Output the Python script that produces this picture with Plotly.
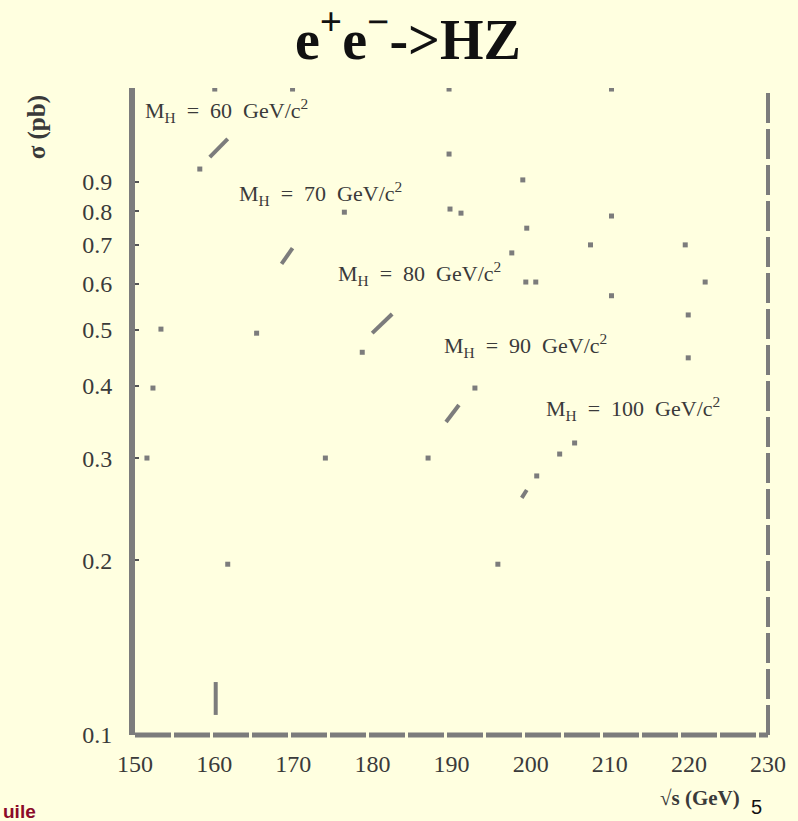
import math
import plotly.graph_objects as go

# ---------------- data ----------------
x_ticks = [150, 160, 170, 180, 190, 200, 210, 220, 230]
y_ticks = [0.1, 0.2, 0.3, 0.4, 0.5, 0.6, 0.7, 0.8, 0.9]
y_tick_text = ["0.1", "0.2", "0.3", "0.4", "0.5", "0.6", "0.7", "0.8", "0.9"]

higgs_masses = [60, 70, 80, 90, 100]
# visible segments of each cross-section curve (sqrt(s) in GeV, sigma in pb)
curve_s = [[159.45, 161.72], [168.52, 169.91], [179.98, 182.50], [189.31, 190.94], [198.88, 199.51]]
curve_sigma = [[0.992, 1.066], [0.649, 0.691], [0.493, 0.532], [0.3465, 0.3707], [0.2563, 0.2645]]
# isolated visible points of each curve
dots_s = [[158.19], [], [178.72], [192.96], [200.77, 203.67, 205.56]]
dots_sigma = [[0.946], [], [0.457], [0.3965], [0.2797, 0.3051, 0.3188]]

# remaining scattered fragments of the scanned curves
frag_s = [160.08, 169.91, 189.69, 210.22, 189.69, 189.81, 191.20, 199.01, 210.22, 199.51,
          197.62, 207.57, 219.54, 199.39, 200.65, 222.06, 210.22, 219.92, 219.92, 176.46,
          153.28, 165.37, 152.27, 151.51, 174.06, 187.04, 161.72, 195.86]
frag_sigma = [1.2996, 1.2996, 1.2996, 1.2996, 1.004, 0.807, 0.794, 0.906, 0.785, 0.748,
              0.678, 0.700, 0.700, 0.604, 0.604, 0.604, 0.572, 0.530, 0.447, 0.797,
              0.501, 0.493, 0.3965, 0.3003, 0.3003, 0.3003, 0.197, 0.197]
bar_s = [160.2, 160.2]
bar_sigma = [0.1083, 0.1234]

# ---------------- layout geometry ----------------
W, H = 798, 821
L, R, T, B = 135, 28, 88, 86
X_RANGE = [150, 230]
Y_RANGE = [-1.0, 0.1156]

def px_to_s(px):
    return X_RANGE[0] + (px - L) / (W - L - R) * (X_RANGE[1] - X_RANGE[0])

def py_to_logy(py):
    return Y_RANGE[0] + (H - B - py) / (H - T - B) * (Y_RANGE[1] - Y_RANGE[0])

def px_to_paper(px):
    return (px - L) / (W - L - R)

def py_to_paper(py):
    return (H - B - py) / (H - T - B)

GRAY = "#7c7c7c"
TEXT = "#3a3a3a"
SERIF = "Liberation Serif, DejaVu Serif, serif"

fig = go.Figure()

for i, mh in enumerate(higgs_masses):
    fig.add_trace(go.Scatter(x=curve_s[i], y=curve_sigma[i], mode="lines",
                             line=dict(color=GRAY, width=4), showlegend=False,
                             name=f"MH={mh}"))
    if dots_s[i]:
        fig.add_trace(go.Scatter(x=dots_s[i], y=dots_sigma[i], mode="markers",
                                 marker=dict(symbol="square", size=5, color=GRAY),
                                 showlegend=False))

fig.add_trace(go.Scatter(x=frag_s, y=frag_sigma, mode="markers",
                         marker=dict(symbol="square", size=5, color=GRAY),
                         showlegend=False))
fig.add_trace(go.Scatter(x=bar_s, y=bar_sigma, mode="lines",
                         line=dict(color=GRAY, width=4), showlegend=False))

# curve labels
label_pos = [(143, 110), (237, 193), (337, 273), (443, 345), (545, 408)]
nb = "\u00a0"
for mh, (px, py) in zip(higgs_masses, label_pos):
    fig.add_annotation(x=px_to_s(px), y=py_to_logy(py), xref="x", yref="y",
                       xanchor="left", yanchor="middle", showarrow=False,
                       text=f"M<sub>H</sub>{nb}{nb}={nb}{nb}{mh}{nb}{nb}GeV/c<sup>2</sup>",
                       font=dict(family=SERIF, size=22, color=TEXT))

# title
fig.add_annotation(x=px_to_paper(409), y=py_to_paper(36), xref="paper", yref="paper",
                   xanchor="center", yanchor="middle", showarrow=False,
                   text="e<sup>+</sup>e<sup>−</sup>->HZ",
                   font=dict(family=SERIF, size=56, color="#111111", weight="bold"))
# y axis title
fig.add_annotation(x=px_to_paper(37), y=py_to_paper(127), xref="paper", yref="paper",
                   xanchor="center", yanchor="middle", showarrow=False, textangle=-90,
                   text="σ (pb)", font=dict(family=SERIF, size=25, color=TEXT, weight="bold"))
# x axis title
fig.add_annotation(x=px_to_paper(744), y=py_to_paper(798), xref="paper", yref="paper",
                   xanchor="right", yanchor="middle", showarrow=False,
                   text="√s (GeV)", font=dict(family=SERIF, size=21, color=TEXT, weight="bold"))
# footer
fig.add_annotation(x=px_to_paper(1), y=py_to_paper(811), xref="paper", yref="paper",
                   xanchor="left", yanchor="middle", showarrow=False,
                   text="<b>uile</b>", font=dict(family="Liberation Sans, Arial, sans-serif",
                                                size=19, color="#8b0a2a"))
fig.add_annotation(x=px_to_paper(758), y=py_to_paper(807), xref="paper", yref="paper",
                   xanchor="center", yanchor="middle", showarrow=False,
                   text="5", font=dict(family="Liberation Sans, Arial, sans-serif",
                                       size=20, color="#111111"))

# dashed bottom and right frame lines
fig.add_shape(type="line", xref="paper", yref="paper", x0=0, x1=1, y0=0, y1=0,
              line=dict(color=GRAY, width=5, dash="36px,3px"))
fig.add_shape(type="line", xref="paper", yref="paper", x0=1, x1=1, y0=0, y1=1,
              line=dict(color=GRAY, width=4, dash="30px,6px"))

fig.update_layout(
    width=W, height=H, autosize=False,
    margin=dict(l=L, r=R, t=T, b=B),
    paper_bgcolor="#FFFFE0", plot_bgcolor="#FFFFE0",
    showlegend=False,
)
fig.update_xaxes(range=X_RANGE, tickvals=x_ticks, ticktext=[str(v) for v in x_ticks],
                 showgrid=False, zeroline=False, showline=False, ticks="",
                 ticklabelstandoff=12,
                 tickfont=dict(family=SERIF, size=24, color=TEXT))
fig.update_yaxes(type="log", range=Y_RANGE, tickvals=y_ticks, ticktext=y_tick_text,
                 showgrid=False, zeroline=False, showline=True, linewidth=6,
                 linecolor=GRAY, ticks="inside", ticklen=4, tickwidth=2,
                 tickcolor="#555555", ticklabelstandoff=12,
                 tickfont=dict(family=SERIF, size=24, color=TEXT))

fig.write_html("out.html")
